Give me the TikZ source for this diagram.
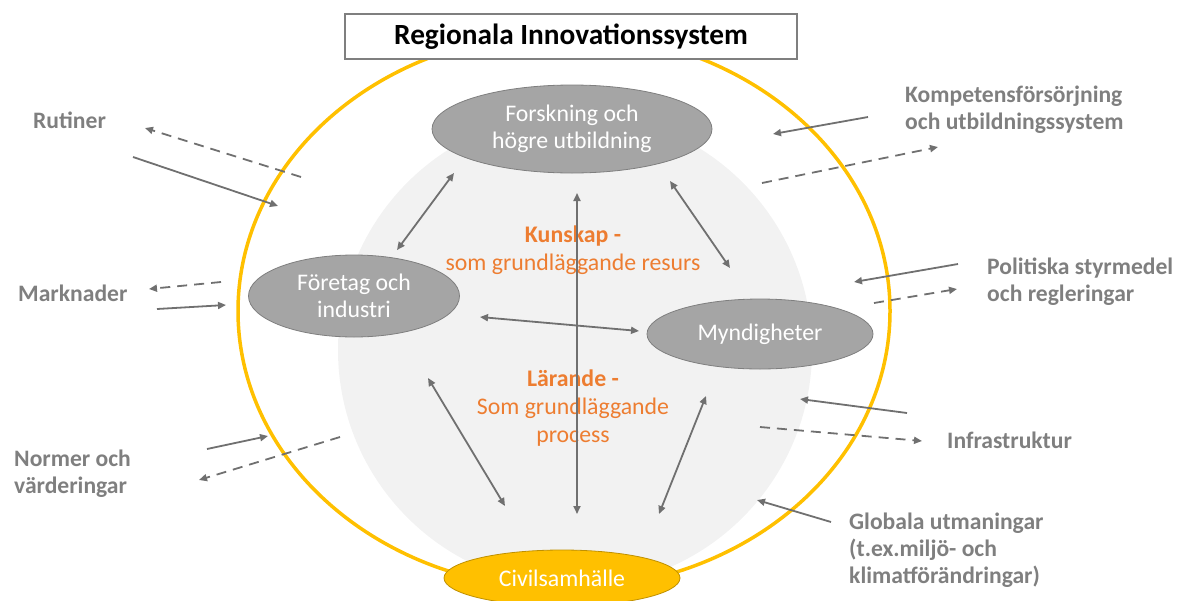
\documentclass[tikz,border=0pt]{standalone}
\usepackage{fontspec}
\setmainfont{Carlito}
\usetikzlibrary{shapes.geometric,arrows.meta}
\definecolor{ygold}{HTML}{FFC000}
\definecolor{ygoldd}{HTML}{BF9000}
\definecolor{bubfill}{HTML}{A5A5A5}
\definecolor{bubline}{HTML}{7F7F7F}
\definecolor{lightbg}{HTML}{F2F2F2}
\definecolor{arr}{HTML}{707070}
\definecolor{lbl}{HTML}{7F7F7F}
\definecolor{orng}{HTML}{ED7D31}
\tikzset{
  bub/.style={ellipse, draw=bubline, fill=bubfill, line width=0.8pt, inner sep=0pt, text=white, align=center, font=\fontsize{23.8}{27}\selectfont},
  civ/.style={ellipse, draw=ygoldd, fill=ygold, line width=0.8pt, inner sep=0pt, text=white, align=center, font=\fontsize{23.8}{27}\selectfont},
  lab/.style={anchor=west, inner sep=0pt, align=left, text=lbl, font=\fontsize{23.6}{27}\selectfont\bfseries},
  otext/.style={inner sep=0pt, align=center, text=orng, font=\fontsize{23.8}{28}\selectfont},
  tip/.style={arrows={-Triangle[length=8pt,width=7pt]}},
  dtip/.style={arrows={Triangle[length=8pt,width=7pt]-Triangle[length=8pt,width=7pt]}},
  conn/.style={draw=arr, line width=1.8pt},
  dconn/.style={draw=arr, line width=1.8pt, dash pattern=on 10pt off 7pt}
}
\begin{document}
\begin{tikzpicture}[x=1pt,y=-1pt]
\useasboundingbox (0,0) rectangle (1177,600);
% background circle and system ellipse
\fill[lightbg] (575,350) circle (237pt);
\draw[ygold, line width=3.5pt] (564,311) ellipse (326pt and 278pt);
% title
\node[draw=bubline, fill=white, line width=1.2pt, minimum width=452pt, minimum height=45pt, inner sep=0pt, font=\fontsize{29.3}{32}\selectfont\bfseries] (title) at (571,36.5) {Regionala Innovationssystem};
% actors
\node[bub, minimum width=280pt, minimum height=88pt] (forsk) at (572,129) {Forskning och\\högre utbildning};
\node[bub, minimum width=211pt, minimum height=82pt] (foretag) at (354,296) {Företag och\\industri};
\node[bub, minimum width=226pt, minimum height=70pt] (mynd) at (760,334) {Myndigheter};
\node[civ, minimum width=236pt, minimum height=56pt] (civil) at (562,578) {Civilsamhälle};
% centre texts
\node[otext] (kunskap) at (573,250.5) {\textbf{Kunskap -}\\som grundläggande resurs};
\node[otext] (larande) at (573,408) {\textbf{Lärande -}\\Som grundläggande\\process};
% outside labels
\node[lab] (rutiner) at (33,120) {Rutiner};
\node[lab] (marknader) at (18,293) {Marknader};
\node[lab] (normer) at (14,473.5) {Normer och\\värderingar};
\node[lab] (kompetens) at (905,110) {Kompetensförsörjning\\och utbildningssystem};
\node[lab] (politiska) at (987,281.5) {Politiska styrmedel\\och regleringar};
\node[lab] (infra) at (947,440) {Infrastruktur};
\node[lab] (globala) at (849,550) {Globala utmaningar\\(t.ex.miljö- och\\klimatförändringar)};
% inner connector end points
\coordinate (ff1) at (454,173); \coordinate (ff2) at (397,250);
\coordinate (fm1) at (670,181); \coordinate (fm2) at (730,268);
\coordinate (fc1) at (577,193); \coordinate (fc2) at (577,514);
\coordinate (tm1) at (480,317); \coordinate (tm2) at (639,331);
\coordinate (tc1) at (428,378); \coordinate (tc2) at (505,506);
\coordinate (mc1) at (706,396); \coordinate (mc2) at (659,514);
\draw[conn, dtip] (ff1) -- (ff2);
\draw[conn, dtip] (fm1) -- (fm2);
\draw[conn, dtip] (fc1) -- (fc2);
\draw[conn, dtip] (tm1) -- (tm2);
\draw[conn, dtip] (tc1) -- (tc2);
\draw[conn, dtip] (mc1) -- (mc2);
% outside connector end points
\coordinate (ru1) at (301,177); \coordinate (ru2) at (145,128);
\coordinate (ru3) at (133,157); \coordinate (ru4) at (278,206);
\coordinate (ma1) at (221,282); \coordinate (ma2) at (149,289);
\coordinate (ma3) at (157,309); \coordinate (ma4) at (226,305);
\coordinate (no1) at (207,449); \coordinate (no2) at (268,436);
\coordinate (no3) at (340,437); \coordinate (no4) at (199,480);
\coordinate (ko1) at (868,117); \coordinate (ko2) at (773,134);
\coordinate (ko3) at (762,183); \coordinate (ko4) at (938,147);
\coordinate (po1) at (958,264); \coordinate (po2) at (854,282);
\coordinate (po3) at (874,303); \coordinate (po4) at (957,289);
\coordinate (in1) at (907,413); \coordinate (in2) at (800,399);
\coordinate (in3) at (760,427); \coordinate (in4) at (922,441);
\coordinate (gl1) at (831,522); \coordinate (gl2) at (757,500);
\draw[dconn, tip] (ru1) -- (ru2);
\draw[conn, tip] (ru3) -- (ru4);
\draw[dconn, tip] (ma1) -- (ma2);
\draw[conn, tip] (ma3) -- (ma4);
\draw[conn, tip] (no1) -- (no2);
\draw[dconn, tip] (no3) -- (no4);
\draw[conn, tip] (ko1) -- (ko2);
\draw[dconn, tip] (ko3) -- (ko4);
\draw[conn, tip] (po1) -- (po2);
\draw[dconn, tip] (po3) -- (po4);
\draw[conn, tip] (in1) -- (in2);
\draw[dconn, tip] (in3) -- (in4);
\draw[conn, tip] (gl1) -- (gl2);
\end{tikzpicture}
\end{document}
